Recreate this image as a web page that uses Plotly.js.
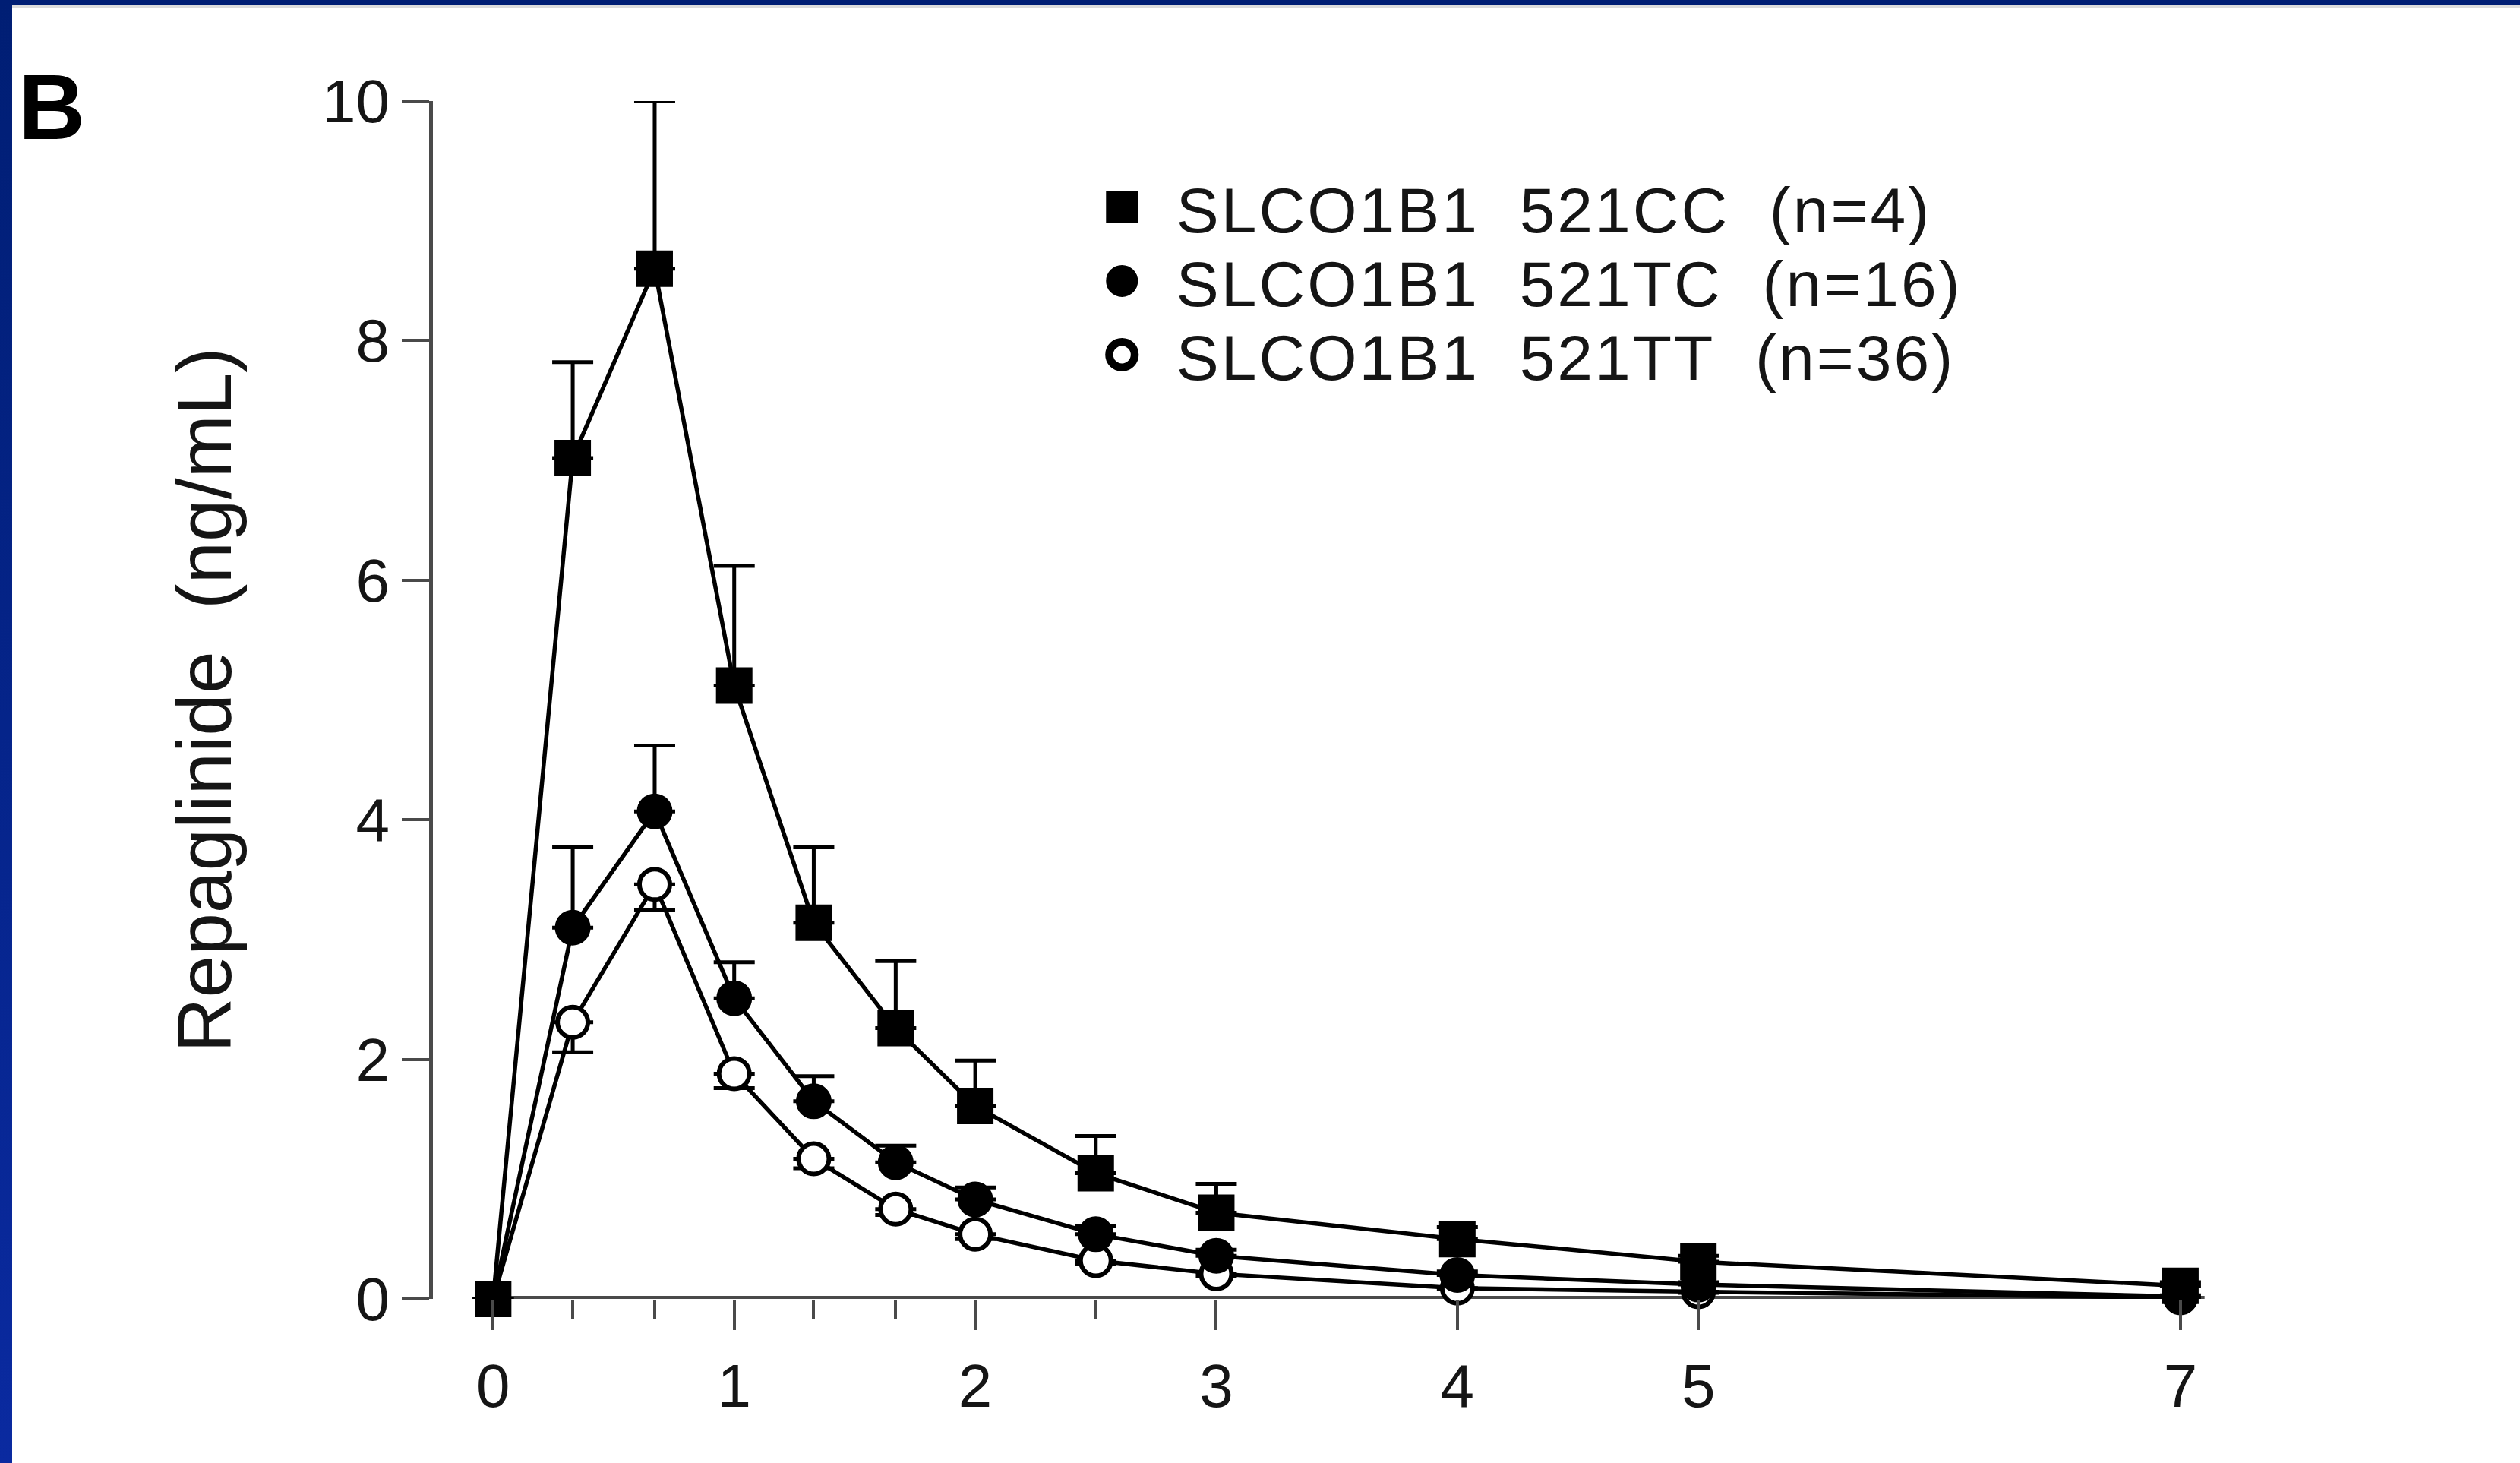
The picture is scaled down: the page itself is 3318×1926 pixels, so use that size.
<!DOCTYPE html>
<html><head><meta charset="utf-8">
<script src="https://cdn.plot.ly/plotly-3.0.1.min.js"></script>
<style>
html,body{margin:0;padding:0;background:#fff;overflow:hidden}
#wrap{position:relative;width:3318px;height:1926px}
#chart{position:absolute;left:0;top:0;width:3318px;height:1926px}
#bt{position:absolute;left:0;top:0;width:3318px;height:7px;background:#001e74;border-bottom:3px solid #dcdcdc}
#bl{position:absolute;left:0;top:0;width:16px;height:1926px;background:linear-gradient(#001e74,#0a2aa0)}
.legendlines{display:none}
.legendtext{letter-spacing:3px}
</style></head>
<body>
<div id="wrap"><div id="chart"></div><div id="bt"></div><div id="bl"></div></div>
<script>
// ---- data ----
const timeHours   = [0, 0.33, 0.67, 1, 1.33, 1.67, 2, 2.5, 3, 4, 5, 7];
const xTickVals   = [0, 1, 2, 3, 4, 5, 7];
const xTickText   = ['0', '1', '2', '3', '4', '5', '7'];
const xMinorTicks = [0.33, 0.67, 1.33, 1.67, 2.5];
const yTickVals   = [0, 2, 4, 6, 8, 10];
const yTickText   = ['0', '2', '4', '6', '8', '10'];

const nameCC = 'SLCO1B1\u00A0\u00A0521CC\u00A0\u00A0(n=4)';
const nameTC = 'SLCO1B1\u00A0\u00A0521TC\u00A0\u00A0(n=16)';
const nameTT = 'SLCO1B1\u00A0\u00A0521TT\u00A0\u00A0(n=36)';

const concCC = [0, 7.02, 8.60, 5.12, 3.14, 2.26, 1.61, 1.05, 0.72, 0.50, 0.31, 0.11];
const sdCC   = [0, 0.80, 1.40, 1.00, 0.63, 0.56, 0.38, 0.31, 0.24, 0.10, 0.05, 0.03];
const concTC = [0, 3.10, 4.07, 2.51, 1.65, 1.14, 0.83, 0.54, 0.36, 0.20, 0.12, 0.02];
const sdTC   = [0, 0.67, 0.55, 0.30, 0.21, 0.14, 0.10, 0.07, 0.05, 0.03, 0.02, 0.01];
const concTT = [0, 2.31, 3.46, 1.88, 1.17, 0.75, 0.54, 0.32, 0.21, 0.09, 0.06, 0.01];
const sdTT   = [0, 0.25, 0.21, 0.12, 0.08, 0.05, 0.04, 0.03, 0.02, 0.01, 0.01, 0.01];

const yTitle = 'Repaglinide\u00A0\u00A0(ng/mL)';
const panelLabel = 'B';

// ---- styling ----
const FONT = 'Liberation Sans, Arial, Helvetica, sans-serif';
const AX = '#4a4a4a';
const zeros = timeHours.map(() => 0);

function trace(name, y, up, down, symbol, fill, size, lw) {
  return {
    type: 'scatter', mode: 'lines+markers', name: name,
    x: timeHours, y: y, cliponaxis: false,
    line: {color: '#000', width: 5.5},
    marker: {symbol: symbol, size: size, color: fill, line: {color: '#000', width: lw}},
    error_y: {type: 'data', symmetric: false, array: up, arrayminus: down,
              color: '#000', thickness: 5, width: 27}
  };
}
const tTT = trace(nameTT, concTT, zeros, sdTT, 'circle', '#fff', 40, 6);
const tTC = trace(nameTC, concTC, sdTC, zeros, 'circle', '#000', 43, 4);
const tCC = trace(nameCC, concCC, sdCC, zeros, 'square', '#000', 44, 4);

const layout = {
  width: 3318, height: 1926,
  paper_bgcolor: '#fff', plot_bgcolor: 'rgba(0,0,0,0)',
  margin: {l: 570, r: 336, t: 133, b: 216},
  font: {family: FONT, color: '#000'},
  showlegend: true,
  legend: {x: 0.3465, y: 0.95, xanchor: 'left', yanchor: 'top', traceorder: 'reversed',
           bgcolor: 'rgba(0,0,0,0)', font: {size: 84, family: FONT, color: '#151515'},
           itemwidth: 133},
  xaxis: {
    range: [-0.25, 7.35], showline: false, showgrid: false, zeroline: false,
    tickmode: 'array', tickvals: xTickVals, ticktext: xTickText,
    ticks: 'outside', ticklen: 40, tickwidth: 4, tickcolor: AX,
    ticklabelstandoff: 5,
    tickfont: {size: 80, family: FONT, color: '#151515'},
    minor: {tickmode: 'array', tickvals: xMinorTicks, ticks: 'outside', ticklen: 26, tickwidth: 4, tickcolor: AX, showgrid: false}
  },
  yaxis: {
    range: [0, 10], showline: true, linewidth: 5, linecolor: AX,
    showgrid: false, zeroline: false,
    tickmode: 'array', tickvals: yTickVals, ticktext: yTickText,
    ticks: 'outside', ticklen: 36, tickwidth: 4, tickcolor: AX,
    ticklabelstandoff: 0,
    tickfont: {size: 80, family: FONT, color: '#151515'},
    title: {text: yTitle, font: {size: 100, family: FONT, color: '#151515'}, standoff: 88}
  },
  shapes: [{type: 'line', xref: 'x', yref: 'y', layer: 'below',
            x0: timeHours[0], x1: timeHours[timeHours.length - 1] + 0.1, y0: 0, y1: 0,
            line: {color: AX, width: 8}}],
  annotations: [{text: '<b>' + panelLabel + '</b>', xref: 'paper', yref: 'paper',
                 x: -0.227, y: 1.039, xanchor: 'left', yanchor: 'top', showarrow: false,
                 font: {size: 122, family: 'Liberation Sans Narrow, Arial Narrow, ' + FONT, color: '#000'}}]
};

Plotly.newPlot('chart', [tTT, tTC, tCC], layout, {staticPlot: true}).then(function () {
  document.querySelectorAll('.legend .legendpoints path.scatterpts').forEach(function (p) {
    var t = p.getAttribute('transform') || '';
    p.setAttribute('transform', t + ' scale(2.1)');
  });
  // tighten legend row spacing to match the reference
  var items = Array.prototype.slice.call(document.querySelectorAll('.legend g.traces'));
  var parsed = items.map(function (g) {
    var m = /translate\(\s*([-\d.]+)[ ,]+([-\d.]+)\s*\)/.exec(g.getAttribute('transform') || '');
    return {g: g, x: m ? +m[1] : 0, y: m ? +m[2] : 0};
  }).sort(function (a, b) { return a.y - b.y; });
  if (parsed.length) {
    var y0 = parsed[0].y;
    parsed.forEach(function (it, i) {
      it.g.setAttribute('transform', 'translate(' + it.x + ',' + (y0 + i * 97) + ')');
    });
  }
});
</script>
</body></html>
